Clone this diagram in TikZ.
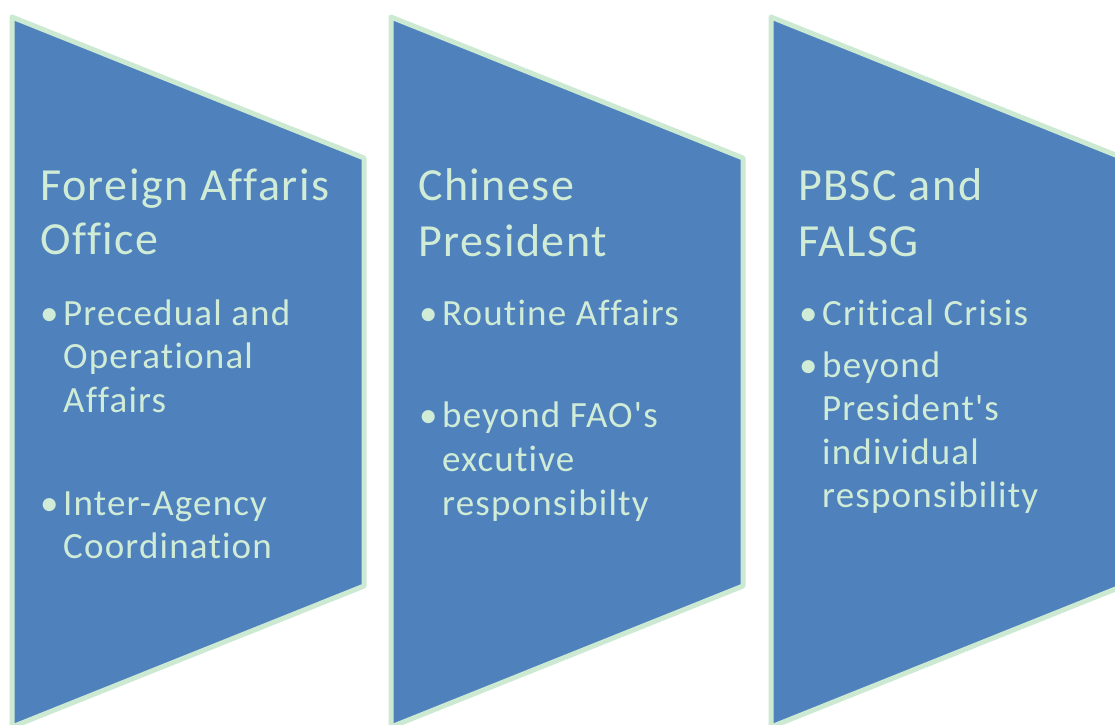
\documentclass[tikz,border=0pt]{standalone}
\usepackage{fontspec}
\setmainfont{Carlito}[Ligatures={TeXOff,CommonOff}, LetterSpace=3.2]
\definecolor{boxfill}{RGB}{79,129,189}
\definecolor{boxline}{RGB}{204,233,210}
\definecolor{boxtext}{RGB}{208,236,214}
\tikzset{
  chevron/.style={fill=boxfill, draw=boxline, line width=5pt, line join=round},
  titletext/.style={anchor=base west, inner sep=0pt, text=boxtext, font=\fontsize{46}{55}\selectfont},
  itemtext/.style={anchor=base west, inner sep=0pt, text=boxtext, font=\fontsize{37}{44}\selectfont},
}
\begin{document}
\begin{tikzpicture}[x=1pt,y=-1pt]
\useasboundingbox (0,0) rectangle (1115,724);
\clip (0,0) rectangle (1115,724);
% shapes
\foreach \x/\n in {12/a,391/b,771/c}{
  \draw[chevron] (\x,17) -- (\x+352,158) -- (\x+352,586) -- (\x,727) -- cycle;
}
% panel 1
\node[titletext] (t1a) at (40,200) {Foreign Affaris};
\node[titletext] (t1b) at (40,254) {Office};
\node[itemtext] (b1a) at (40,325) {•};
\node[itemtext] (i1a) at (63,325) {Precedual and};
\node[itemtext] (i1b) at (63,368) {Operational};
\node[itemtext] (i1c) at (63,412) {Affairs};
\node[itemtext] (b1b) at (40,515) {•};
\node[itemtext] (i1d) at (63,515) {Inter-Agency};
\node[itemtext] (i1e) at (63,558) {Coordination};
% panel 2
\node[titletext] (t2a) at (418,200) {Chinese};
\node[titletext] (t2b) at (418,256) {President};
\node[itemtext] (b2a) at (419,325) {•};
\node[itemtext] (i2a) at (442,325) {Routine Affairs};
\node[itemtext] (b2b) at (419,427) {•};
\node[itemtext] (i2b) at (442,427) {beyond FAO's};
\node[itemtext] (i2c) at (442,471) {excutive};
\node[itemtext] (i2d) at (442,515) {responsibilty};
% panel 3
\node[titletext] (t3a) at (798,200) {PBSC and};
\node[titletext] (t3b) at (798,256) {FALSG};
\node[itemtext] (b3a) at (799,325) {•};
\node[itemtext] (i3a) at (822,325) {Critical Crisis};
\node[itemtext] (b3b) at (799,377) {•};
\node[itemtext] (i3b) at (822,377) {beyond};
\node[itemtext] (i3c) at (822,420) {President's};
\node[itemtext] (i3d) at (822,464) {individual};
\node[itemtext] (i3e) at (822,507) {responsibility};
\end{tikzpicture}
\end{document}
